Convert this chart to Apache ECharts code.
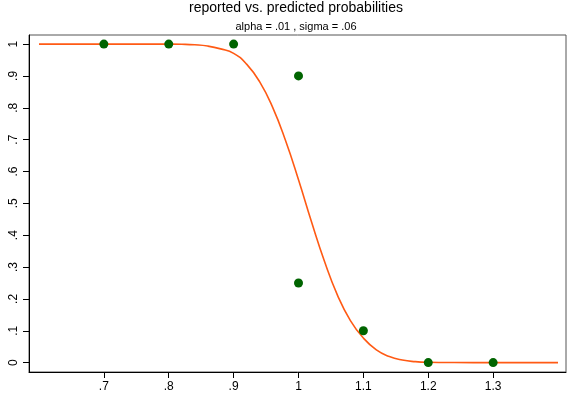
<!doctype html>
<html lang="en">
<head>
	<meta charset="UTF-8">
	<title>reported vs. predicted probabilities</title>
	<script src="https://cdn.jsdelivr.net/npm/echarts@6/dist/echarts.min.js"></script>
	<style>
		html, body { margin: 0; padding: 0; width: 100%; height: 100%; background: #fff; }
		#main { width: 567px; height: 402px; }
	</style>
</head>
<body>
	<div id="main"></div>
	<script type="text/javascript">
		// predicted curve
		var curveX = [0.6, 0.7, 0.76, 0.8, 0.82, 0.84, 0.86, 0.88, 0.9, 0.92, 0.94, 0.96, 0.98, 1.0,
			1.02, 1.04, 1.06, 1.08, 1.1, 1.12, 1.14, 1.16, 1.18, 1.2, 1.24, 1.3, 1.4];
		var curveY = [1, 1, 1, 0.9998, 0.9993, 0.9977, 0.9938, 0.985, 0.971, 0.937, 0.882, 0.802, 0.697, 0.574,
			0.442, 0.318, 0.212, 0.132, 0.077, 0.04, 0.019, 0.008, 0.003, 0.001, 0.0002, 0, 0];
		// reported values
		var obsX = [0.7, 0.8, 0.9, 1, 1, 1.1, 1.2, 1.3];
		var obsY = [1, 1, 1, 0.9, 0.25, 0.1, 0, 0];
		// tick labels
		var xTicks = [0.7, 0.8, 0.9, 1, 1.1, 1.2, 1.3];
		var yTicks = [0, 0.1, 0.2, 0.3, 0.4, 0.5, 0.6, 0.7, 0.8, 0.9, 1];

		function fmt(v) {
			return String(+(+v).toFixed(1)).replace(/^0\./, '.');
		}

		var myChart = echarts.init(document.getElementById('main'));
		var font = 'Liberation Sans, Arial, sans-serif';

		option = {
			animation: false,
			title: [
				{
					text: 'reported vs. predicted probabilities',
					left: 296, top: 1, padding: 0, textAlign: 'center',
					textStyle: { fontSize: 14, fontWeight: 'normal', color: '#000', fontFamily: font }
				},
				{
					text: 'alpha = .01 , sigma = .06',
					left: 296, top: 21, padding: 0, textAlign: 'center',
					textStyle: { fontSize: 11, fontWeight: 'normal', color: '#000', fontFamily: font }
				}
			],
			grid: {
				left: 29, right: 1, top: 35, bottom: 30,
				show: true, borderColor: '#555', borderWidth: 1, backgroundColor: '#fff'
			},
			xAxis: {
				type: 'value',
				min: 0.5846, max: 1.4123,
				splitLine: { show: false },
				axisLine: { onZero: false, lineStyle: { color: '#000', width: 1 } },
				axisTick: { customValues: xTicks, length: 6, lineStyle: { color: '#000' } },
				axisLabel: {
					customValues: xTicks, formatter: fmt, margin: 9,
					color: '#000', fontSize: 12, fontFamily: font
				}
			},
			yAxis: {
				type: 'value',
				min: -0.0295, max: 1.0285,
				splitLine: { show: false },
				axisLine: { onZero: false, lineStyle: { color: '#000', width: 1 } },
				axisTick: { customValues: yTicks, length: 6, lineStyle: { color: '#000' } },
				axisLabel: {
					customValues: yTicks, formatter: fmt, rotate: 90, margin: 9,
					color: '#000', fontSize: 12, fontFamily: font
				}
			},
			series: [
				{
					type: 'line',
					data: curveX.map(function (x, i) { return [x, curveY[i]]; }),
					showSymbol: false,
					smooth: true,
					lineStyle: { color: '#ff5a14', width: 1.6 },
					z: 2
				},
				{
					type: 'scatter',
					data: obsX.map(function (x, i) { return [x, obsY[i]]; }),
					symbolSize: 9,
					itemStyle: { color: '#006400', opacity: 1 },
					z: 3
				}
			]
		};
		myChart.setOption(option);
	</script>
</body>
</html>
